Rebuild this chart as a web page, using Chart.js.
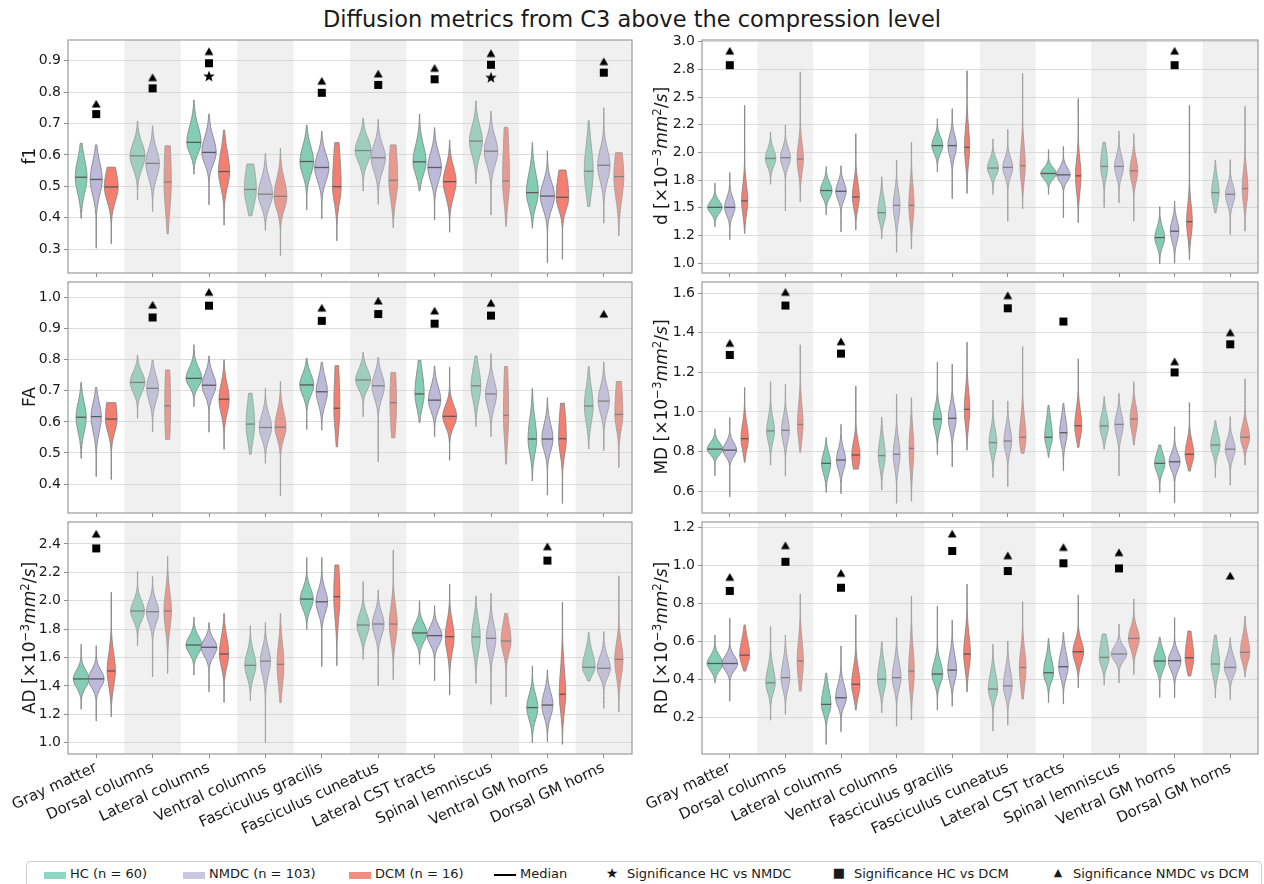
<!DOCTYPE html>
<html>
<head>
<meta charset="utf-8">
<script src="https://cdn.jsdelivr.net/npm/chart.js@4.4.1/dist/chart.umd.min.js"></script>
<style>
  body { margin: 0; background: #fff; font-family: "DejaVu Sans", sans-serif; color: #1a1a1a; }
  #page { position: relative; width: 1264px; height: 884px; overflow: hidden; }
  canvas { position: absolute; }
  #title { position: absolute; top: 6px; left: 0; width: 1264px; text-align: center; font-size: 22.5px; }
  .ylab { position: absolute; white-space: nowrap; font-size: 17px; transform: translate(-50%, -50%) rotate(-90deg); }
  .ylab sup { font-size: 0.7em; vertical-align: baseline; position: relative; top: -0.5em; }
  #legend { position: absolute; left: 26px; top: 861px; width: 1234px; height: 26px; border: 1px solid #cfcfcf; border-radius: 4px; font-size: 13px; }
  .item { position: absolute; top: 4px; white-space: nowrap; }
  .hand { position: absolute; left: 0; width: 22px; text-align: center; }
  .patch { top: 6px; height: 7px; }
  .txt { position: absolute; left: 26px; top: 0; }
</style>
</head>
<body>
<div id="page">
  <div id="title">Diffusion metrics from C3 above the compression level</div>

  <canvas id="c_f1"></canvas>
  <canvas id="c_d"></canvas>
  <canvas id="c_FA"></canvas>
  <canvas id="c_MD"></canvas>
  <canvas id="c_AD"></canvas>
  <canvas id="c_RD"></canvas>

  <div class="ylab" style="left:29px; top:156px">f1</div>
  <div class="ylab" style="left:29px; top:397px">FA</div>
  <div class="ylab" style="left:29px; top:638px">AD [×10<sup>−3</sup><i>mm</i><sup>2</sup>/<i>s</i>]</div>
  <div class="ylab" style="left:661px; top:156px">d [×10<sup>−3</sup><i>mm</i><sup>2</sup>/<i>s</i>]</div>
  <div class="ylab" style="left:661px; top:397px">MD [×10<sup>−3</sup><i>mm</i><sup>2</sup>/<i>s</i>]</div>
  <div class="ylab" style="left:661px; top:638px">RD [×10<sup>−3</sup><i>mm</i><sup>2</sup>/<i>s</i>]</div>

  <div id="legend">
    <div class="item" style="left:17px"><div class="hand patch" style="background:#8fd6c4"></div><span class="txt">HC (n = 60)</span></div>
    <div class="item" style="left:156px"><div class="hand patch" style="background:#c8c6e0"></div><span class="txt">NMDC (n = 103)</span></div>
    <div class="item" style="left:322px"><div class="hand patch" style="background:#ef8d81"></div><span class="txt">DCM (n = 16)</span></div>
    <div class="item" style="left:467px"><div class="hand" style="top:8px; height:2px; background:#000"></div><span class="txt">Median</span></div>
    <div class="item" style="left:574px"><div class="hand" style="top:-1px; font-size:14px">★</div><span class="txt">Significance HC vs NMDC</span></div>
    <div class="item" style="left:801px"><div class="hand" style="top:-1px; font-size:13px">■</div><span class="txt">Significance HC vs DCM</span></div>
    <div class="item" style="left:1020px"><div class="hand" style="top:0px; font-size:11px">▲</div><span class="txt">Significance NMDC vs DCM</span></div>
  </div>
</div>

<script>
// categories and groups
const categories = ['Gray matter', 'Dorsal columns', 'Lateral columns', 'Ventral columns', 'Fasciculus gracilis',
  'Fasciculus cuneatus', 'Lateral CST tracts', 'Spinal lemniscus', 'Ventral GM horns', 'Dorsal GM horns'];
const groups = ['HC', 'NMDC', 'DCM'];
const groupColors = ['#84cdb5', '#bdb9da', '#f47f70'];

// each violin: [min, lower half-width point, median, upper half-width point, max]
const f1_HC = [[0.398,0.47,0.529,0.595,0.637],[0.457,0.55,0.597,0.645,0.708],[0.539,0.60,0.640,0.70,0.775],[0.406,0.43,0.490,0.58,0.571],[0.425,0.53,0.579,0.635,0.695],
  [0.485,0.57,0.614,0.66,0.717],[0.486,0.53,0.578,0.64,0.730],[0.509,0.59,0.644,0.70,0.772],[0.367,0.43,0.480,0.55,0.640],[0.436,0.47,0.548,0.64,0.709]];
const f1_NMDC = [[0.303,0.465,0.522,0.585,0.632],[0.420,0.52,0.573,0.625,0.693],[0.441,0.565,0.608,0.665,0.730],[0.360,0.43,0.475,0.53,0.605],[0.397,0.51,0.560,0.61,0.676],
  [0.443,0.54,0.591,0.64,0.713],[0.393,0.51,0.560,0.615,0.687],[0.409,0.56,0.612,0.665,0.739],[0.257,0.42,0.469,0.52,0.613],[0.383,0.51,0.567,0.625,0.750]];
const f1_DCM = [[0.317,0.445,0.498,0.57,0.561],[0.349,0.41,0.514,0.68,0.629],[0.377,0.49,0.547,0.62,0.679],[0.280,0.42,0.468,0.53,0.621],[0.327,0.44,0.499,0.64,0.639],
  [0.369,0.45,0.519,0.66,0.632],[0.354,0.46,0.515,0.57,0.647],[0.373,0.44,0.517,0.70,0.688],[0.268,0.42,0.465,0.56,0.552],[0.343,0.45,0.531,0.63,0.607]];

const d_HC = [[1.327,1.44,1.503,1.57,1.721],[1.712,1.86,1.945,2.04,2.182],[1.436,1.58,1.655,1.74,1.870],[1.221,1.36,1.455,1.60,1.779],[1.824,1.98,2.061,2.15,2.303],
  [1.621,1.78,1.858,1.95,2.121],[1.621,1.75,1.809,1.87,2.024],[1.500,1.76,1.873,2.05,2.091],[0.994,1.14,1.230,1.33,1.509],[1.455,1.52,1.636,1.78,1.930]];
const d_NMDC = [[1.212,1.42,1.503,1.60,1.818],[1.470,1.86,1.952,2.05,2.248],[1.282,1.56,1.648,1.74,1.879],[1.097,1.38,1.521,1.66,1.930],[1.582,1.95,2.061,2.17,2.394],
  [1.379,1.77,1.864,1.96,2.206],[1.409,1.73,1.797,1.87,2.052],[1.545,1.77,1.873,1.98,2.191],[1.000,1.18,1.288,1.40,1.558],[1.258,1.52,1.621,1.72,1.933]];
const d_DCM = [[1.267,1.42,1.561,1.73,2.424],[1.552,1.80,1.939,2.10,2.727],[1.300,1.48,1.597,1.75,2.167],[1.127,1.36,1.521,1.72,2.091],[1.630,1.88,2.045,2.25,2.736],
  [1.491,1.72,1.879,2.08,2.712],[1.364,1.62,1.788,1.96,2.485],[1.379,1.72,1.833,1.96,2.167],[1.030,1.22,1.373,1.55,2.424],[1.288,1.52,1.673,1.85,2.415]];

const FA_HC = [[0.483,0.56,0.615,0.67,0.727],[0.612,0.69,0.727,0.765,0.815],[0.649,0.71,0.740,0.78,0.848],[0.496,0.53,0.593,0.68,0.692],[0.576,0.68,0.719,0.76,0.805],
  [0.617,0.70,0.735,0.775,0.824],[0.598,0.64,0.690,0.77,0.798],[0.585,0.66,0.716,0.78,0.812],[0.410,0.49,0.545,0.62,0.708],[0.513,0.59,0.651,0.72,0.778]];
const FA_NMDC = [[0.424,0.56,0.617,0.67,0.711],[0.568,0.66,0.708,0.755,0.799],[0.567,0.68,0.718,0.76,0.812],[0.467,0.54,0.582,0.63,0.708],[0.574,0.65,0.697,0.75,0.792],
  [0.472,0.67,0.716,0.76,0.808],[0.553,0.63,0.670,0.72,0.780],[0.553,0.64,0.690,0.74,0.819],[0.365,0.50,0.545,0.60,0.678],[0.508,0.62,0.667,0.72,0.792]];
const FA_DCM = [[0.415,0.56,0.609,0.70,0.662],[0.544,0.50,0.652,0.82,0.767],[0.512,0.62,0.673,0.73,0.800],[0.363,0.54,0.583,0.64,0.730],[0.520,0.56,0.644,0.80,0.781],
  [0.549,0.55,0.662,0.80,0.759],[0.477,0.58,0.618,0.66,0.776],[0.464,0.53,0.621,0.80,0.778],[0.338,0.49,0.546,0.66,0.660],[0.454,0.57,0.624,0.75,0.730]];

const MD_HC = [[0.678,0.78,0.812,0.85,0.914],[0.732,0.84,0.904,0.98,1.153],[0.593,0.68,0.740,0.80,0.871],[0.605,0.71,0.779,0.87,0.973],[0.785,0.90,0.964,1.03,1.251],
  [0.669,0.78,0.845,0.92,1.060],[0.770,0.82,0.872,0.97,1.032],[0.812,0.87,0.929,1.00,1.077],[0.593,0.69,0.740,0.80,0.833],[0.669,0.78,0.833,0.90,0.956]];
const MD_NMDC = [[0.571,0.77,0.807,0.85,0.971],[0.676,0.84,0.907,0.98,1.140],[0.587,0.70,0.757,0.82,0.937],[0.538,0.71,0.786,0.87,1.089],[0.723,0.90,0.968,1.04,1.241],
  [0.622,0.79,0.853,0.93,1.055],[0.703,0.83,0.895,0.98,1.043],[0.678,0.87,0.937,1.00,1.094],[0.541,0.70,0.748,0.80,0.925],[0.630,0.76,0.812,0.87,0.976]];
const MD_DCM = [[0.745,0.80,0.865,0.95,1.123],[0.796,0.85,0.937,1.05,1.339],[0.711,0.70,0.782,0.86,1.131],[0.549,0.70,0.816,0.93,1.072],[0.807,0.92,1.013,1.12,1.352],
  [0.791,0.80,0.872,0.98,1.330],[0.821,0.86,0.930,1.02,1.268],[0.833,0.89,0.964,1.04,1.153],[0.701,0.73,0.786,0.86,1.047],[0.732,0.82,0.872,0.94,1.167]];

const AD_HC = [[1.235,1.38,1.449,1.52,1.693],[1.684,1.85,1.928,2.01,2.205],[1.477,1.62,1.688,1.76,1.883],[1.296,1.45,1.545,1.65,1.825],[1.799,1.93,2.012,2.10,2.304],
  [1.587,1.74,1.829,1.92,2.135],[1.552,1.70,1.773,1.85,2.000],[1.418,1.62,1.745,1.88,2.034],[1.000,1.15,1.247,1.35,1.540],[1.435,1.47,1.531,1.65,1.778]];
const AD_NMDC = [[1.153,1.38,1.449,1.52,1.683],[1.465,1.83,1.923,2.01,2.170],[1.359,1.60,1.672,1.74,1.846],[1.000,1.46,1.575,1.68,1.846],[1.536,1.90,1.993,2.09,2.304],
  [1.402,1.74,1.836,1.93,2.076],[1.437,1.68,1.754,1.83,1.965],[1.270,1.62,1.735,1.85,2.052],[1.007,1.17,1.265,1.37,1.512],[1.242,1.45,1.524,1.62,1.782]];
const AD_DCM = [[1.183,1.38,1.505,1.65,2.059],[1.489,1.78,1.928,2.08,2.311],[1.284,1.52,1.625,1.76,1.911],[1.282,1.38,1.552,1.72,1.911],[1.543,1.85,2.029,2.30,2.252],
  [1.444,1.70,1.836,1.98,2.358],[1.336,1.62,1.747,1.87,2.118],[1.324,1.62,1.716,1.86,1.911],[0.988,1.20,1.341,1.55,1.989],[1.218,1.45,1.587,1.72,2.175]];

const RD_HC = [[0.381,0.44,0.483,0.53,0.633],[0.184,0.32,0.381,0.47,0.677],[0.056,0.21,0.267,0.36,0.431],[0.223,0.33,0.400,0.50,0.598],[0.237,0.37,0.427,0.50,0.786],
  [0.126,0.29,0.348,0.44,0.584],[0.277,0.38,0.434,0.52,0.615],[0.369,0.46,0.515,0.62,0.638],[0.304,0.44,0.496,0.56,0.621],[0.302,0.41,0.480,0.58,0.633]];
const RD_NMDC = [[0.285,0.44,0.483,0.53,0.721],[0.214,0.34,0.408,0.50,0.633],[0.123,0.25,0.302,0.38,0.575],[0.152,0.34,0.408,0.50,0.725],[0.258,0.38,0.448,0.54,0.712],
  [0.158,0.30,0.365,0.46,0.601],[0.269,0.40,0.466,0.55,0.647],[0.381,0.49,0.533,0.58,0.691],[0.302,0.44,0.498,0.55,0.725],[0.293,0.41,0.462,0.53,0.619]];
const RD_DCM = [[0.443,0.47,0.527,0.62,0.686],[0.337,0.38,0.496,0.62,0.850],[0.237,0.30,0.373,0.47,0.739],[0.184,0.33,0.443,0.58,0.839],[0.334,0.44,0.533,0.65,0.901],
  [0.295,0.35,0.462,0.57,0.809],[0.355,0.48,0.545,0.61,0.844],[0.425,0.55,0.615,0.68,0.823],[0.417,0.44,0.513,0.63,0.654],[0.413,0.48,0.542,0.63,0.733]];

// significance markers (y position), null = not significant
const f1_star = [null, null, 0.851, null, null, null, null, 0.847, null, null];
const f1_square = [0.730, 0.812, 0.892, null, 0.798, 0.823, 0.841, 0.887, null, 0.862];
const f1_tri = [0.762, 0.846, 0.929, null, 0.835, 0.858, 0.876, 0.923, null, 0.897];
const d_square = [2.788, null, null, null, null, null, null, null, 2.788, null];
const d_tri = [2.915, null, null, null, null, null, null, null, 2.915, null];
const FA_square = [null, 0.936, 0.974, null, 0.925, 0.947, 0.916, 0.942, null, null];
const FA_tri = [null, 0.976, 1.017, null, 0.966, 0.989, 0.957, 0.982, null, 0.947];
const MD_square = [1.288, 1.538, 1.295, null, null, 1.524, 1.457, null, 1.200, 1.342];
const MD_tri = [1.347, 1.605, 1.355, null, null, 1.588, null, null, 1.254, 1.401];
const AD_square = [2.369, null, null, null, null, null, null, null, 2.283, null];
const AD_tri = [2.470, null, null, null, null, null, null, null, 2.381, null];
const RD_square = [0.866, 1.020, 0.883, null, 1.077, 0.971, 1.012, 0.985, null, null];
const RD_tri = [0.938, 1.105, 0.959, null, 1.167, 1.052, 1.096, 1.068, null, 0.945];
const none = categories.map(() => null);

// tick values and labels
const f1Ticks = [0.3, 0.4, 0.5, 0.6, 0.7, 0.8, 0.9];
const dTicks = [1.0, 1.25, 1.5, 1.75, 2.0, 2.25, 2.5, 2.75, 3.0];
const dTickLabels = ['1.0', '1.2', '1.5', '1.8', '2.0', '2.2', '2.5', '2.8', '3.0'];
const FATicks = [0.4, 0.5, 0.6, 0.7, 0.8, 0.9, 1.0];
const MDTicks = [0.6, 0.8, 1.0, 1.2, 1.4, 1.6];
const ADTicks = [1.0, 1.2, 1.4, 1.6, 1.8, 2.0, 2.2, 2.4];
const RDTicks = [0.2, 0.4, 0.6, 0.8, 1.0, 1.2];

// panel layout
const cols = [{left: 0, width: 640, yW: 68, padR: 8}, {left: 640, width: 624, yW: 62, padR: 2}];
const rows = [{top: 28, plotH: 233, xH: 12, labels: false}, {top: 270, plotH: 231, xH: 12, labels: false}, {top: 510, plotH: 232, xH: 92, labels: true}];

const panels = [
  {id: 'c_f1', col: 0, row: 0, min: 0.224, max: 0.966, ticks: f1Ticks, stats: [f1_HC, f1_NMDC, f1_DCM], marks: [f1_star, f1_square, f1_tri]},
  {id: 'c_d', col: 1, row: 0, min: 0.91, max: 3.015, ticks: dTicks, tickLabels: dTickLabels, stats: [d_HC, d_NMDC, d_DCM], marks: [none, d_square, d_tri]},
  {id: 'c_FA', col: 0, row: 1, min: 0.307, max: 1.05, ticks: FATicks, stats: [FA_HC, FA_NMDC, FA_DCM], marks: [none, FA_square, FA_tri]},
  {id: 'c_MD', col: 1, row: 1, min: 0.489, max: 1.657, ticks: MDTicks, stats: [MD_HC, MD_NMDC, MD_DCM], marks: [none, MD_square, MD_tri]},
  {id: 'c_AD', col: 0, row: 2, min: 0.92, max: 2.555, ticks: ADTicks, stats: [AD_HC, AD_NMDC, AD_DCM], marks: [none, AD_square, AD_tri]},
  {id: 'c_RD', col: 1, row: 2, min: 0.005, max: 1.23, ticks: RDTicks, stats: [RD_HC, RD_NMDC, RD_DCM], marks: [none, RD_square, RD_tri]}
];

// width profile of a violin: two half gaussians meeting at the median
function profile(v, s) {
  const sa = Math.max(s[2] - s[1], 1e-6) / 1.1774;
  const sb = Math.max(s[3] - s[2], 1e-6) / 1.1774;
  const t = v < s[2] ? (s[2] - v) / sa : (v - s[2]) / sb;
  return Math.exp(-0.5 * t * t);
}

function violinArea(s) {
  const n = 80;
  let a = 0;
  for (let k = 0; k < n; k++) a += profile(s[0] + (s[4] - s[0]) * (k + 0.5) / n, s) * (s[4] - s[0]) / n;
  return a;
}

const violinPlugin = {
  id: 'violins',
  beforeDatasetsDraw(chart) {
    const {ctx, chartArea: area, scales} = chart;
    const xs = scales.x, ys = scales.y;
    const step = xs.getPixelForValue(1) - xs.getPixelForValue(0);
    const sets = chart.data.datasets.filter(d => d.violins);
    const areas = sets.map(d => d.violins.map(violinArea));
    const minArea = Math.min(...areas.flat());
    const maxHalf = step * 0.14;

    ctx.save();
    ctx.beginPath();
    ctx.rect(area.left, area.top, area.width, area.height);
    ctx.clip();
    sets.forEach((d, g) => {
      d.violins.forEach((s, i) => {
        const cx = xs.getPixelForValue(i) + (g - 1) * step * 0.267;
        const hw = maxHalf * minArea / areas[g][i];
        const n = 60, pts = [];
        for (let k = 0; k <= n; k++) {
          const v = s[0] + (s[4] - s[0]) * k / n;
          pts.push([ys.getPixelForValue(v), Math.max(hw * profile(v, s), 0.15)]);
        }
        ctx.beginPath();
        pts.forEach(([py, w], k) => k ? ctx.lineTo(cx - w, py) : ctx.moveTo(cx - w, py));
        for (let k = n; k >= 0; k--) ctx.lineTo(cx + pts[k][1], pts[k][0]);
        ctx.closePath();
        ctx.fillStyle = d.color;
        ctx.fill();
        ctx.strokeStyle = '#858585';
        ctx.lineWidth = 0.9;
        ctx.stroke();

        const my = ys.getPixelForValue(s[2]);
        const mw = hw * profile(s[2], s);
        ctx.beginPath();
        ctx.moveTo(cx - mw, my);
        ctx.lineTo(cx + mw, my);
        ctx.strokeStyle = '#5a5a5a';
        ctx.lineWidth = 1.3;
        ctx.stroke();
      });
    });
    // grey band over every second region
    ctx.fillStyle = 'rgba(210,210,210,0.33)';
    for (let i = 1; i < categories.length; i += 2) {
      ctx.fillRect(xs.getPixelForValue(i) - step / 2, area.top, step, area.height);
    }
    ctx.restore();
  },
  afterDraw(chart) {
    const {ctx, chartArea: a} = chart;
    ctx.save();
    ctx.strokeStyle = '#9b9b9b';
    ctx.lineWidth = 1.2;
    ctx.strokeRect(a.left, a.top, a.width, a.height);
    ctx.restore();
  }
};

function markerImg(kind) {
  const c = document.createElement('canvas');
  c.width = c.height = 12;
  const g = c.getContext('2d');
  g.fillStyle = '#000';
  g.beginPath();
  if (kind === 'rect') {
    g.rect(2, 2, 8, 8);
  } else if (kind === 'tri') {
    g.moveTo(6, 1.8); g.lineTo(10.4, 9.6); g.lineTo(1.6, 9.6); g.closePath();
  } else {
    for (let k = 0; k < 10; k++) {
      const r = k % 2 ? 2.5 : 6, ang = -Math.PI / 2 + k * Math.PI / 5;
      const px = 6 + r * Math.cos(ang), py = 6.4 + r * Math.sin(ang);
      k ? g.lineTo(px, py) : g.moveTo(px, py);
    }
    g.closePath();
  }
  g.fill();
  return c;
}
const markerStyles = [markerImg('star'), markerImg('rect'), markerImg('tri')];

panels.forEach(p => {
  const col = cols[p.col], row = rows[p.row];
  const canvas = document.getElementById(p.id);
  canvas.width = col.width;
  canvas.height = 12 + row.plotH + row.xH;
  canvas.style.left = col.left + 'px';
  canvas.style.top = row.top + 'px';

  const datasets = p.stats.map((st, g) => ({
    label: groups[g],
    data: st.map(s => s[2]),
    violins: st,
    color: groupColors[g],
    showLine: false,
    pointRadius: 0
  }));
  p.marks.forEach((m, k) => datasets.push({
    label: 'sig' + k,
    data: m,
    showLine: false,
    pointStyle: markerStyles[k],
    pointRadius: 5
  }));

  new Chart(canvas, {
    type: 'line',
    data: {labels: categories, datasets},
    plugins: [violinPlugin],
    options: {
      responsive: false,
      animation: false,
      layout: {padding: {top: 12, right: col.padR, left: 0, bottom: 0}},
      plugins: {legend: {display: false}, tooltip: {enabled: false}},
      scales: {
        x: {
          type: 'category',
          offset: true,
          grid: {display: true, offset: false, drawOnChartArea: false, drawTicks: true, tickLength: 4, tickColor: '#8c8c8c'},
          border: {display: false},
          ticks: {
            display: row.labels, autoSkip: false, maxRotation: 25, minRotation: 25, padding: 1,
            font: {family: 'DejaVu Sans', size: 15}, color: '#1a1a1a'
          },
          afterFit: s => { s.height = row.xH; }
        },
        y: {
          type: 'linear',
          min: p.min,
          max: p.max,
          afterBuildTicks: s => { s.ticks = p.ticks.map(v => ({value: v})); },
          grid: {color: '#dcdcdc', lineWidth: 1, tickLength: 4, tickColor: '#8c8c8c'},
          border: {display: false},
          ticks: {
            font: {family: 'DejaVu Sans', size: 14}, color: '#1a1a1a', padding: 3,
            callback: (v, i) => p.tickLabels ? p.tickLabels[i] : Number(v).toFixed(1)
          },
          afterFit: s => { s.width = col.yW; }
        }
      }
    }
  });
});
</script>
</body>
</html>
